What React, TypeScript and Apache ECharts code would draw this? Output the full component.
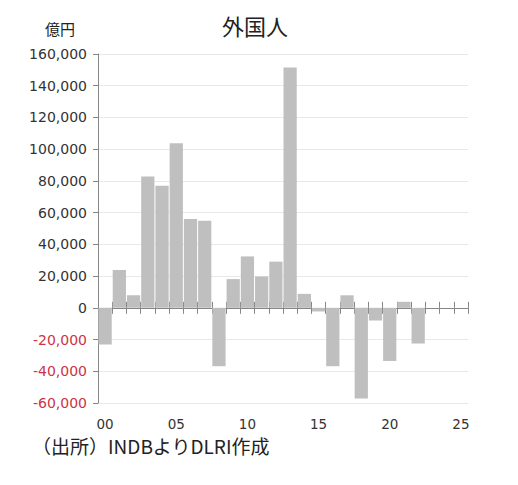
import React, { useEffect, useRef } from "react";
import * as echarts from "echarts";

const categories: string[] = [
  "00", "01", "02", "03", "04", "05", "06", "07", "08", "09",
  "10", "11", "12", "13", "14", "15", "16", "17", "18", "19",
  "20", "21", "22", "23", "24", "25",
];
const values: (number | null)[] = [
  -23200, 23800, 8000, 82800, 77000, 103800, 56000, 54900, -36800, 18100,
  32400, 19800, 29100, 151500, 8800, -2300, -36800, 7900, -57100, -8000,
  -33500, 3800, -22500, null, null, null,
];
const yTicks = { min: -60000, max: 160000, step: 20000 };
const titleText = "外国人";
const unitText = "億円";
const sourceText = "（出所）INDBよりDLRI作成";

const CJK = "'Noto Sans CJK JP', 'Noto Sans', sans-serif";
const NUM = "'DejaVu Sans', 'Noto Sans CJK JP', sans-serif";

export default function App() {
  const ref = useRef<HTMLDivElement>(null);
  useEffect(() => {
    if (!ref.current) return;
    const chart = echarts.init(ref.current, undefined, { renderer: "svg" });
    const fmt = (v: number) =>
      (v < 0 ? "-" : "") + Math.abs(v).toString().replace(/\B(?=(\d{3})+(?!\d))/g, ",");
    const tickAxisBase = {
      type: "category" as const,
      data: categories,
      axisLine: { show: true, onZero: true, onZeroAxisIndex: 0, lineStyle: { color: "#868686", width: 1 } },
      axisLabel: { show: false },
      splitLine: { show: false },
    };
    chart.setOption({
      animation: false,
      backgroundColor: "#ffffff",
      title: {
        text: titleText,
        left: 217,
        top: 9,
        textStyle: { fontFamily: CJK, fontSize: 22, fontWeight: "normal", color: "#222222" },
      },
      grid: { left: 98, right: 50, top: 54, bottom: 82, containLabel: false },
      xAxis: [
        {
          type: "category",
          position: "bottom",
          data: categories,
          axisLine: { show: false, onZero: false },
          axisTick: { show: false },
          axisLabel: {
            interval: 4,
            margin: 14,
            color: "#333333",
            fontFamily: NUM,
            fontSize: 13.5,
          },
        },
        {
          ...tickAxisBase,
          position: "bottom",
          axisTick: { show: true, interval: 0, alignWithLabel: false, length: 6, inside: false, lineStyle: { color: "#868686" } },
        },
        {
          ...tickAxisBase,
          position: "top",
          axisTick: { show: true, interval: 0, alignWithLabel: false, length: 6, inside: false, lineStyle: { color: "#868686" } },
        },
      ],
      yAxis: {
        type: "value",
        min: yTicks.min,
        max: yTicks.max,
        interval: yTicks.step,
        axisLine: { show: true, lineStyle: { color: "#868686" } },
        axisTick: { show: true, length: 5, lineStyle: { color: "#868686" } },
        splitLine: { show: true, lineStyle: { color: "#e8e8e8", width: 1 } },
        axisLabel: {
          margin: 11,
          fontFamily: NUM,
          fontSize: 14,
          color: "#333333",
          formatter: (v: number) => (v < 0 ? `{neg|${fmt(v)}}` : fmt(v)),
          rich: { neg: { color: "#cc3348", fontFamily: NUM, fontSize: 14 } },
        },
      },
      series: [
        {
          type: "bar",
          xAxisIndex: 0,
          data: values,
          barCategoryGap: "7%",
          itemStyle: { color: "#bfbfbf" },
          z: 1,
        },
      ],
      graphic: [
        {
          type: "text",
          left: 45,
          top: 21,
          style: { text: unitText, font: `15px ${CJK}`, fill: "#222222" },
        },
        {
          type: "text",
          left: 32,
          top: 436,
          style: { text: sourceText, font: `19px ${CJK}`, fill: "#222222" },
        },
      ],
    });
    return () => chart.dispose();
  }, []);
  return (
    <div
      ref={ref}
      style={{ position: "absolute", left: 0, top: 0, width: 518, height: 485 }}
    />
  );
}
